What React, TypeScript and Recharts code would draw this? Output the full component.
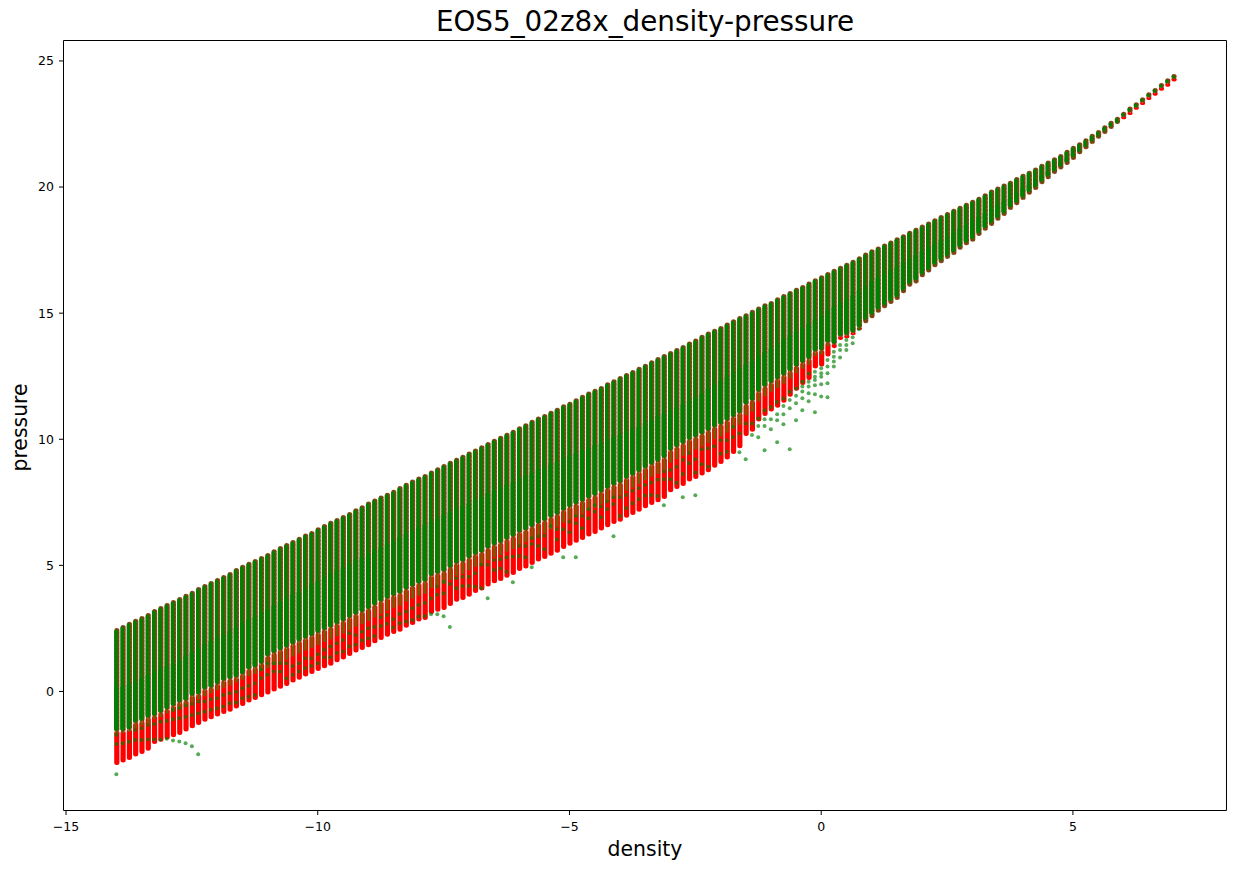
import React from 'react';
import { ComposedChart, Bar, Scatter, XAxis, YAxis } from 'recharts';

const densityColumns = [
  -14, -13.875, -13.75, -13.625, -13.5, -13.375, -13.25, -13.125,
  -13, -12.875, -12.75, -12.625, -12.5, -12.375, -12.25, -12.125,
  -12, -11.875, -11.75, -11.625, -11.5, -11.375, -11.25, -11.125,
  -11, -10.875, -10.75, -10.625, -10.5, -10.375, -10.25, -10.125,
  -10, -9.875, -9.75, -9.625, -9.5, -9.375, -9.25, -9.125,
  -9, -8.875, -8.75, -8.625, -8.5, -8.375, -8.25, -8.125,
  -8, -7.875, -7.75, -7.625, -7.5, -7.375, -7.25, -7.125,
  -7, -6.875, -6.75, -6.625, -6.5, -6.375, -6.25, -6.125,
  -6, -5.875, -5.75, -5.625, -5.5, -5.375, -5.25, -5.125,
  -5, -4.875, -4.75, -4.625, -4.5, -4.375, -4.25, -4.125,
  -4, -3.875, -3.75, -3.625, -3.5, -3.375, -3.25, -3.125,
  -3, -2.875, -2.75, -2.625, -2.5, -2.375, -2.25, -2.125,
  -2, -1.875, -1.75, -1.625, -1.5, -1.375, -1.25, -1.125,
  -1, -0.875, -0.75, -0.625, -0.5, -0.375, -0.25, -0.125,
  0, 0.125, 0.25, 0.375, 0.5, 0.625, 0.75, 0.875,
  1, 1.125, 1.25, 1.375, 1.5, 1.625, 1.75, 1.875,
  2, 2.125, 2.25, 2.375, 2.5, 2.625, 2.75, 2.875,
  3, 3.125, 3.25, 3.375, 3.5, 3.625, 3.75, 3.875,
  4, 4.125, 4.25, 4.375, 4.5, 4.625, 4.75, 4.875,
  5, 5.125, 5.25, 5.375, 5.5, 5.625, 5.75, 5.875,
  6, 6.125, 6.25, 6.375, 6.5, 6.625, 6.75, 6.875,
  7,
];

const pressureTop = [
  2.44, 2.56, 2.68, 2.8, 2.91, 3.03, 3.19, 3.31,
  3.43, 3.55, 3.67, 3.79, 3.91, 4.06, 4.18, 4.3,
  4.42, 4.54, 4.66, 4.82, 4.94, 5.06, 5.17, 5.29,
  5.41, 5.56, 5.69, 5.81, 5.93, 6.05, 6.18, 6.28,
  6.43, 6.56, 6.69, 6.8, 6.92, 7.04, 7.18, 7.3,
  7.45, 7.57, 7.69, 7.8, 7.92, 8.07, 8.2, 8.32,
  8.44, 8.54, 8.68, 8.81, 8.94, 9.07, 9.19, 9.31,
  9.43, 9.55, 9.68, 9.81, 9.94, 10.06, 10.18, 10.3,
  10.44, 10.55, 10.69, 10.82, 10.92, 11.05, 11.17, 11.31,
  11.41, 11.55, 11.68, 11.81, 11.92, 12.03, 12.18, 12.3,
  12.43, 12.55, 12.67, 12.79, 12.91, 13.05, 13.18, 13.3,
  13.42, 13.54, 13.66, 13.8, 13.91, 14.06, 14.19, 14.3,
  14.41, 14.55, 14.68, 14.81, 14.92, 15.05, 15.18, 15.31,
  15.4, 15.55, 15.68, 15.8, 15.93, 16.04, 16.17, 16.3,
  16.42, 16.55, 16.68, 16.8, 16.92, 17.04, 17.18, 17.32,
  17.45, 17.56, 17.68, 17.8, 17.93, 18.05, 18.19, 18.31,
  18.43, 18.55, 18.68, 18.81, 18.93, 19.06, 19.18, 19.3,
  19.42, 19.54, 19.67, 19.82, 19.94, 20.06, 20.17, 20.32,
  20.45, 20.57, 20.69, 20.84, 20.97, 21.1, 21.23, 21.4,
  21.56, 21.7, 21.85, 22.03, 22.18, 22.37, 22.55, 22.71,
  22.91, 23.11, 23.28, 23.48, 23.68, 23.85, 24.05, 24.23,
  24.4,
];

const redBottom = [
  -2.84, -2.74, -2.64, -2.5, -2.4, -2.27, -2.0, -1.91,
  -1.82, -1.74, -1.65, -1.51, -1.38, -1.25, -1.12, -1.02,
  -0.91, -0.81, -0.72, -0.6, -0.5, -0.36, -0.26, -0.15,
  -0.04, 0.08, 0.19, 0.3, 0.44, 0.54, 0.67, 0.77,
  0.89, 1.0, 1.1, 1.24, 1.35, 1.49, 1.62, 1.72,
  1.83, 1.99, 2.12, 2.25, 2.36, 2.45, 2.61, 2.72,
  2.85, 2.91, 3.15, 3.24, 3.31, 3.47, 3.64, 3.71,
  3.84, 3.98, 4.08, 4.24, 4.37, 4.46, 4.59, 4.7,
  4.86, 4.96, 5.09, 5.23, 5.33, 5.46, 5.58, 5.73,
  5.86, 5.98, 6.09, 6.22, 6.32, 6.46, 6.59, 6.72,
  6.81, 6.97, 7.08, 7.21, 7.34, 7.47, 7.58, 7.71,
  7.98, 8.11, 8.23, 8.4, 8.5, 8.64, 8.77, 8.95,
  9.1, 9.28, 9.5, 9.72, 10.21, 10.38, 10.78, 11.0,
  11.18, 11.33, 11.53, 11.77, 12.0, 12.23, 12.43, 12.89,
  12.96, 13.36, 13.69, 14.02, 14.08, 14.21, 14.41, 14.68,
  14.88, 15.1, 15.27, 15.44, 15.6, 15.87, 16.13, 16.26,
  16.5, 16.69, 16.9, 17.06, 17.23, 17.39, 17.59, 17.77,
  17.91, 18.14, 18.35, 18.54, 18.74, 18.93, 19.17, 19.36,
  19.57, 19.77, 19.96, 20.19, 20.39, 20.6, 20.78, 20.95,
  21.15, 21.38, 21.58, 21.79, 21.99, 22.18, 22.38, 22.58,
  22.77, 22.94, 23.14, 23.33, 23.53, 23.7, 23.9, 24.06,
  24.26,
];

const redTop = [
  -1.65, -1.65, -1.6, -1.45, -1.35, -1.27, -1.1, -1.01,
  -0.87, -0.79, -0.7, -0.56, -0.43, -0.3, -0.19, -0.07,
  0.05, 0.15, 0.24, 0.36, 0.46, 0.6, 0.69, 0.8,
  0.92, 1.04, 1.15, 1.26, 1.39, 1.5, 1.62, 1.72,
  1.84, 1.96, 2.06, 2.19, 2.3, 2.44, 2.57, 2.67,
  2.79, 2.94, 3.08, 3.2, 3.31, 3.4, 3.56, 3.68,
  3.8, 3.87, 4.1, 4.19, 4.27, 4.42, 4.59, 4.66,
  4.8, 4.94, 5.03, 5.19, 5.32, 5.41, 5.54, 5.65,
  5.82, 5.91, 6.04, 6.18, 6.28, 6.42, 6.53, 6.69,
  6.82, 6.94, 7.05, 7.18, 7.28, 7.42, 7.56, 7.69,
  7.79, 7.96, 8.08, 8.22, 8.37, 8.51, 8.63, 8.78,
  9.07, 9.21, 9.34, 9.5, 9.6, 9.72, 9.85, 10.0,
  10.12, 10.26, 10.42, 10.58, 10.95, 11.1, 11.5, 11.7,
  11.88, 12.03, 12.2, 12.4, 12.62, 12.8, 12.95, 13.3,
  13.36, 13.69, 13.75, 14.06, 14.12, 14.24, 14.43, 14.68,
  14.88, 15.1, 15.27, 15.44, 15.6, 15.87, 16.13, 16.26,
  16.5, 16.69, 16.9, 17.06, 17.23, 17.39, 17.59, 17.77,
  17.91, 18.14, 18.35, 18.54, 18.74, 18.93, 19.17, 19.36,
  19.57, 19.77, 19.96, 20.19, 20.39, 20.6, 20.78, 20.95,
  21.15, 21.38, 21.58, 21.79, 21.99, 22.18, 22.38, 22.58,
  22.83, 23.0, 23.2, 23.39, 23.59, 23.78, 23.98, 24.14,
  24.34,
];

const greenBottom = [
  -1.55, -1.55, -1.49, -1.22, -1.15, -1.02, -0.95, -0.82,
  -0.69, -0.56, -0.42, -0.35, -0.15, -0.09, 0.11, 0.17,
  0.31, 0.44, 0.51, 0.57, 0.7, 0.9, 0.97, 1.12,
  1.42, 1.54, 1.65, 1.76, 1.89, 2.0, 2.12, 2.22,
  2.34, 2.46, 2.56, 2.69, 2.8, 2.94, 3.07, 3.17,
  3.29, 3.44, 3.58, 3.7, 3.81, 3.9, 4.06, 4.18,
  4.3, 4.37, 4.6, 4.69, 4.77, 4.92, 5.09, 5.16,
  5.3, 5.44, 5.53, 5.69, 5.82, 5.91, 6.04, 6.15,
  6.32, 6.41, 6.54, 6.68, 6.78, 6.92, 7.03, 7.19,
  7.32, 7.44, 7.55, 7.68, 7.78, 7.92, 8.06, 8.19,
  8.29, 8.46, 8.58, 8.72, 8.87, 9.01, 9.13, 9.28,
  9.57, 9.71, 9.84, 10.0, 10.1, 10.22, 10.35, 10.5,
  10.6, 10.75, 10.9, 11.05, 11.4, 11.55, 11.9, 12.1,
  12.25, 12.4, 12.55, 12.72, 12.9, 13.05, 13.2, 13.5,
  13.55, 13.85, 13.8, 14.1, 14.15, 14.25, 14.45, 14.75,
  14.95, 15.15, 15.32, 15.48, 15.64, 15.9, 16.16, 16.3,
  16.54, 16.72, 16.93, 17.09, 17.26, 17.42, 17.62, 17.8,
  17.94, 18.17, 18.38, 18.57, 18.77, 18.96, 19.2, 19.39,
  19.6, 19.8, 19.99, 20.22, 20.42, 20.63, 20.81, 20.98,
  21.18, 21.41, 21.61, 21.82, 22.02, 22.21, 22.42, 22.62,
  22.83, 23.0, 23.2, 23.39, 23.59, 23.78, 23.98, 24.14,
  24.34,
];

const denseTop = [
  0.2, 0.25, 0.35, 0.45, 0.55, 0.7, 0.85, 0.95,
  1.05, 1.15, 1.3, 1.45, 1.6, 1.75, 1.9, 2.05,
  2.2, 2.3, 2.45, 2.6, 2.75, 2.9, 3.0, 3.15,
  3.3, 3.45, 3.6, 3.75, 3.9, 4.0, 4.15, 4.3,
  4.4, 4.55, 4.7, 4.85, 4.95, 5.1, 5.25, 5.35,
  5.5, 5.65, 5.75, 5.9, 6.0, 6.15, 6.3, 6.4,
  6.55, 6.65, 6.8, 6.9, 7.05, 7.15, 7.3, 7.4,
  7.5, 7.65, 7.75, 7.9, 8.0, 8.15, 8.25, 8.35,
  8.5, 8.6, 8.7, 8.85, 8.91, 9.05, 9.15, 9.3,
  9.4, 9.5, 9.6, 9.7, 9.8, 9.9, 10.05, 10.15,
  10.25, 10.35, 10.45, 10.55, 10.7, 10.8, 10.95, 11.05,
  11.2, 11.3, 11.45, 11.6, 11.7, 11.85, 12.05, 12.2,
  12.35, 12.55, 12.7, 12.85, 13.0, 13.15, 13.35, 13.5,
  13.65, 13.85, 14.0, 14.15, 14.3, 14.45, 14.6, 14.8,
  14.95, 15.15, 15.3, 15.45, 15.6, 15.75, 15.95, 16.1,
  16.3, 16.45, 16.6, 16.75, 16.9, 17.05, 17.2, 17.35,
  17.5, 17.65, 17.8, 17.95, 18.1, 18.25, 18.4, 18.55,
  18.7, 18.85, 19.0, 19.2, 19.35, 19.5, 19.6, 19.8,
  20.0, 20.15, 20.3, 20.5, 20.65, 20.8, 20.95, 21.15,
  21.35, 21.5, 21.65, 21.85, 22.0, 22.2, 22.4, 22.55,
  22.8, 23.0, 23.15, 23.38, 23.58, 23.75, 23.95, 24.13,
  24.3,
];

// Individually visible green points, [density, pressure]
const greenDots: [number, number][] = [
  [-14, -3.28], [-14, -1.72], [-14, -2.08], [-13.875, -2.05], [-13.75, -1.99],
  [-13.625, -1.92], [-13.625, -1.53], [-13.5, -1.92], [-13.5, -1.46], [-13.375, -1.9], [-13.375, -1.33],
  [-13.25, -1.9], [-13.25, -1.29], [-13.125, -1.9], [-13.125, -1.2], [-13, -1.88], [-13, -1.16],
  [-12.875, -1.94], [-12.875, -1.1], [-12.875, -0.73], [-12.75, -1.98], [-12.75, -1.06], [-12.75, -0.67],
  [-12.625, -2.05], [-12.625, -1.0], [-12.625, -0.57], [-12.5, -2.17], [-12.5, -0.93], [-12.5, -0.5],
  [-12.375, -2.49], [-12.375, -0.86], [-12.375, -0.4], [-12.25, -0.8], [-12.25, -0.4],
  [-12.125, -0.73], [-12.125, -0.31], [-12, -0.67], [-12, -0.27], [-11.875, -0.6], [-11.875, -0.14],
  [-11.75, -0.47], [-11.75, -0.07], [-11.625, -0.44], [-11.625, -0.01], [-11.5, -0.27], [-11.5, 0.13],
  [-11.375, -0.21], [-11.375, 0.22], [-11.25, -0.14], [-11.25, 0.33], [-11.125, 0.52], [-11.125, 0.88],
  [-11, 0.66], [-11, 1.12], [-10.875, 0.79], [-10.875, 1.12], [-10.75, 0.79], [-10.75, 1.12],
  [-10.625, 0.52], [-10.625, 1.12], [-10.5, 0.66], [-10.5, 1.01], [-10.375, 0.79], [-10.375, 1.12],
  [-10.25, 0.92], [-10.25, 1.32], [-10.125, 1.01], [-10.125, 1.32], [-10, 1.12], [-10, 1.48],
  [-9.875, 1.36], [-9.875, 1.65], [-9.75, 1.36], [-9.75, 1.78], [-9.625, 1.52], [-9.625, 1.91],
  [-9.5, 1.58], [-9.5, 2.04], [-9.375, 1.78], [-9.375, 2.31], [-9.25, 1.85], [-9.25, 2.24],
  [-9.125, 2.02], [-9.125, 2.37], [-9, 2.11], [-9, 2.51], [-8.875, 2.2], [-8.875, 2.57],
  [-8.75, 2.6], [-8.75, 2.94], [-8.625, 2.68], [-8.625, 3.03], [-8.5, 2.54], [-8.5, 2.86],
  [-8.375, 2.7], [-8.375, 3.07], [-8.25, 2.77], [-8.25, 3.17], [-8.125, 2.83], [-8.125, 3.3],
  [-8, 2.97], [-8, 3.43], [-7.875, 2.99], [-7.875, 3.52], [-7.75, 3.06], [-7.75, 3.69],
  [-7.625, 3.06], [-7.625, 3.83], [-7.625, 4.16], [-7.5, 2.98], [-7.5, 3.89], [-7.5, 4.35],
  [-7.375, 2.56], [-7.375, 4.26], [-7.25, 4.09], [-7.25, 4.49], [-7.125, 4.18], [-7.125, 4.55],
  [-7, 4.18], [-7, 4.55], [-6.875, 4.16], [-6.875, 4.69], [-6.75, 4.09], [-6.75, 5.02],
  [-6.625, 3.7], [-6.625, 5.02], [-6.5, 4.82], [-6.5, 5.21], [-6.375, 4.88], [-6.375, 5.24],
  [-6.25, 4.75], [-6.25, 5.32], [-6.125, 4.33], [-6.125, 5.35], [-6, 5.37], [-6, 5.77],
  [-5.875, 5.32], [-5.875, 5.77], [-5.75, 4.92], [-5.75, 5.85], [-5.75, 6.07], [-5.625, 5.77], [-5.625, 6.14],
  [-5.5, 5.64], [-5.5, 6.17], [-5.375, 6.56], [-5.25, 6.03], [-5.25, 6.43], [-5.125, 5.32], [-5.125, 6.43],
  [-5, 6.31], [-5, 6.73], [-4.875, 5.32], [-4.875, 6.67], [-4.875, 6.96], [-4.75, 6.47], [-4.75, 6.96],
  [-4.625, 6.87], [-4.625, 7.22], [-4.5, 7.13], [-4.5, 7.39], [-4.375, 6.91], [-4.375, 7.33],
  [-4.25, 7.22], [-4.25, 7.53], [-4.125, 6.15], [-4.125, 7.43], [-4.125, 7.7], [-4, 6.96], [-4, 7.7],
  [-3.875, 7.26], [-3.875, 7.79], [-3.75, 7.46], [-3.75, 7.96], [-3.625, 7.62], [-3.625, 8.06],
  [-3.5, 7.77], [-3.5, 8.19], [-3.375, 7.79], [-3.375, 8.29], [-3.25, 7.75], [-3.25, 8.39],
  [-3.125, 7.38], [-3.125, 8.41], [-3.125, 8.72], [-3, 8.41], [-3, 8.78], [-2.875, 8.28], [-2.875, 8.91],
  [-2.75, 7.7], [-2.75, 8.62], [-2.75, 9.18], [-2.625, 9.05], [-2.625, 9.44], [-2.5, 7.78], [-2.5, 8.68], [-2.5, 9.21],
  [-2.375, 9.01], [-2.375, 9.6], [-2.25, 8.91], [-2.25, 9.64], [-2.125, 9.72], [-2, 9.43], [-2, 9.96],
  [-1.875, 9.5], [-1.875, 9.96], [-1.75, 10.09], [-1.75, 10.49], [-1.625, 9.48], [-1.625, 10.23],
  [-1.5, 9.21], [-1.5, 10.62], [-1.375, 10.17], [-1.375, 10.62], [-1.25, 10.08], [-1.25, 10.53], [-1.25, 10.82],
  [-1.125, 9.56], [-1.125, 10.53], [-1.125, 10.79], [-1.125, 11.15], [-1, 10.4], [-1, 10.79], [-1, 11.28],
  [-0.875, 9.88], [-0.875, 10.75], [-0.875, 10.99], [-0.875, 11.48], [-0.75, 10.59], [-0.75, 10.99], [-0.75, 11.32], [-0.75, 11.62],
  [-0.625, 9.6], [-0.625, 11.23], [-0.625, 11.56], [-0.625, 11.88], [-0.5, 10.75], [-0.5, 11.43], [-0.5, 11.72], [-0.5, 12.01],
  [-0.375, 11.15], [-0.375, 11.63], [-0.375, 11.89], [-0.375, 12.09], [-0.375, 12.28],
  [-0.25, 11.51], [-0.25, 11.82], [-0.25, 12.09], [-0.25, 12.28], [-0.25, 12.61],
  [-0.125, 11.07], [-0.125, 11.78], [-0.125, 12.14], [-0.125, 12.35], [-0.125, 12.48], [-0.125, 12.68],
  [0, 11.7], [0, 12.18], [0, 12.48], [0, 12.62], [0, 12.82],
  [0.125, 11.67], [0.125, 12.22], [0.125, 12.62], [0.125, 12.88], [0.125, 13.14],
  [0.25, 12.88], [0.25, 13.08], [0.25, 13.27], [0.25, 13.47],
  [0.375, 13.24], [0.375, 13.54], [0.375, 13.74], [0.5, 13.54], [0.5, 13.74], [0.5, 13.94],
  [0.625, 13.81], [0.625, 14.04], [0.75, 14.36],
];

const xTicks = [-15, -10, -5, 0, 5];
const yTicks = [0, 5, 10, 15, 20, 25];
const xDomain: [number, number] = [-15.05, 8.05];
const yDomain: [number, number] = [-4.72, 25.81];

const markerPad = 0.08;

const columns = densityColumns.map((x, i) => {
  const hasRed = redTop[i] > redBottom[i];
  const low = redBottom[i] - markerPad;
  return {
    x,
    red: [low, hasRed ? greenBottom[i] : low],
    band: [redTop[i], hasRed ? greenBottom[i] : redTop[i]],
    edge: [hasRed ? greenBottom[i] - 0.05 : low, pressureTop[i] + markerPad],
    core: [greenBottom[i], pressureTop[i] + 0.02],
    dense: [greenBottom[i], denseTop[i]],
  };
});
const dotRows = greenDots.map(([x, y]) => ({ x, y }));

const hiddenX = (id: string) => (
  <XAxis xAxisId={id} dataKey="x" type="number" orientation="top" height={0} domain={xDomain} allowDataOverflow hide />
);

const dotShape = (p: any) => <circle cx={p.cx} cy={p.cy} r={2} fill="#008000" fillOpacity={0.66} />;
const tickText = (v: number) => String(v).replace('-', '\u2212');

const font = '"DejaVu Sans", sans-serif';

export default function App() {
  return (
    <div style={{ position: 'absolute', left: 0, top: 0, width: 1239, height: 869, background: '#fff', fontFamily: font }}>
      <div style={{ position: 'absolute', left: 63.5, width: 1163, top: 4, textAlign: 'center', fontSize: 27.8, lineHeight: '36px', color: '#000', zIndex: 2 }}>
        EOS5_02z8x_density-pressure
      </div>
      <ComposedChart
        width={1239}
        height={869}
        data={columns}
        margin={{ top: 40.5, right: 12.5, bottom: 0, left: 0 }}
      >
        <XAxis
          xAxisId="main"
          dataKey="x"
          type="number"
          domain={xDomain}
          ticks={xTicks}
          allowDataOverflow
          height={58.5}
          stroke="#000"
          tickSize={4.5}
          tickMargin={7}
          tickFormatter={tickText}
          tick={{ fill: '#000', fontSize: 12.5, fontFamily: font }}
          label={{ value: 'density', position: 'insideBottom', offset: 13, fontSize: 20.4, fill: '#000', fontFamily: font }}
        />
        <XAxis xAxisId="frame" dataKey="x" type="number" orientation="top" domain={xDomain} allowDataOverflow height={0.01} tick={false} tickLine={false} stroke="#000" />
        {hiddenX('wide')}
        {hiddenX('dots')}
        {hiddenX('coreAxis')}
        {hiddenX('bandAxis')}
        <YAxis
          yAxisId="main"
          dataKey="y"
          type="number"
          domain={yDomain}
          ticks={yTicks}
          allowDataOverflow
          width={63.5}
          stroke="#000"
          tickSize={4.5}
          tickMargin={5}
          tick={{ fill: '#000', fontSize: 12.5, fontFamily: font }}
          label={{ value: 'pressure', angle: -90, position: 'insideLeft', offset: 20, dy: 46, fontSize: 20.4, fill: '#000', fontFamily: font }}
        />
        <YAxis yAxisId="frameRight" orientation="right" type="number" domain={yDomain} width={0.01} tick={false} tickLine={false} stroke="#000" />
        <Bar xAxisId="main" yAxisId="main" dataKey="red" barSize={5.2} fill="#ff0000" radius={2.5} isAnimationActive={false} />
        <Bar xAxisId="bandAxis" yAxisId="main" dataKey="band" barSize={3} fill="#7a5a00" isAnimationActive={false} />
        <Bar xAxisId="frame" yAxisId="main" dataKey="edge" barSize={5.2} fill="#7d4412" stroke="#f5d5c5" strokeWidth={0.6} strokeDasharray="1 3" radius={2.5} isAnimationActive={false} />
        <Bar xAxisId="coreAxis" yAxisId="main" dataKey="core" barSize={3.4} fill="#008000" radius={1.6} isAnimationActive={false} />
        <Bar xAxisId="wide" yAxisId="main" dataKey="dense" barSize={4.2} fill="#008000" radius={2} isAnimationActive={false} />
        <Scatter xAxisId="dots" yAxisId="main" data={dotRows} dataKey="y" shape={dotShape} isAnimationActive={false} />
      </ComposedChart>
    </div>
  );
}
